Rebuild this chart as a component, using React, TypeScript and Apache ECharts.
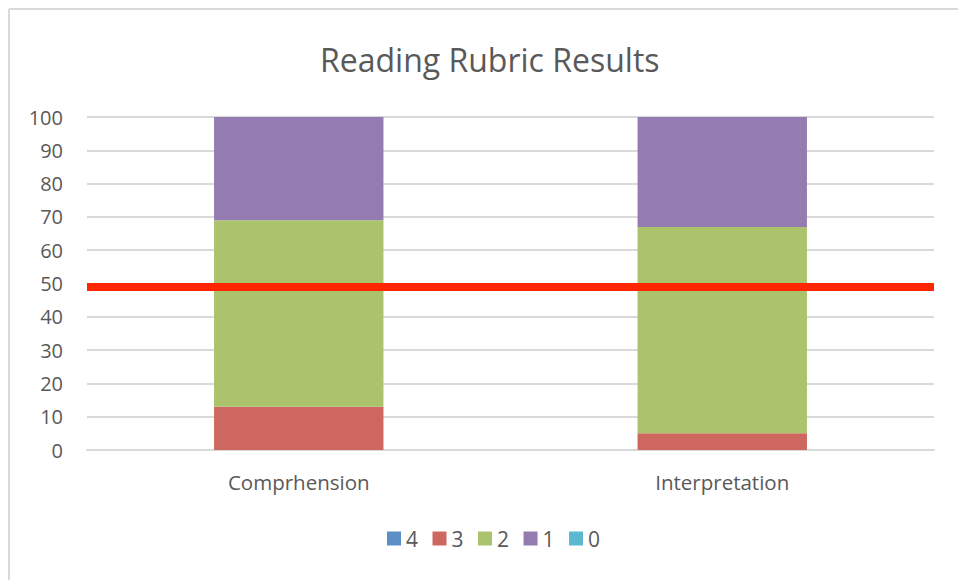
import React, { useEffect, useRef } from "react";
import * as echarts from "echarts";

const categories = ["Comprhension", "Interpretation"];
const seriesNames = ["4", "3", "2", "1", "0"];
const score4 = [0, 0];
const score3 = [13, 5];
const score2 = [56, 62];
const score1 = [31, 33];
const score0 = [0, 0];
const thresholdValue = 49;
const colors = ["#5b8fc8", "#cd675f", "#abc36c", "#947cb0", "#5bb8d0"];

export default function App() {
  const ref = useRef<HTMLDivElement>(null);
  useEffect(() => {
    if (!ref.current) return;
    const chart = echarts.init(ref.current, null, { renderer: "svg" });
    const font = "'Open Sans', sans-serif";
    const values = [score4, score3, score2, score1, score0];
    const series: any[] = seriesNames.map((name, i) => ({
      name,
      type: "bar",
      stack: "total",
      barWidth: "40%",
      data: values[i],
      itemStyle: { color: colors[i] },
    }));
    series[1].markLine = {
      symbol: "none",
      silent: true,
      label: { show: false },
      lineStyle: { color: "#ff2600", width: 8, type: "solid" },
      data: [{ yAxis: thresholdValue }],
    };
    chart.setOption({
      animation: false,
      color: colors,
      title: {
        text: "Reading Rubric Results",
        left: 315,
        top: 38,
        textStyle: { fontFamily: font, fontSize: 32, fontWeight: "normal", color: "#595959" },
      },
      legend: {
        bottom: 26,
        left: 382,
        itemWidth: 14,
        itemHeight: 14,
        itemGap: 14.5,
        icon: "rect",
        textStyle: { fontFamily: font, fontSize: 21, color: "#595959" },
        data: seriesNames,
      },
      grid: { left: 87, right: 24, top: 117, bottom: 130 },
      xAxis: {
        type: "category",
        data: categories,
        axisTick: { show: false },
        axisLine: { lineStyle: { color: "#d9d9d9", width: 2 } },
        axisLabel: { fontFamily: font, fontSize: 20.5, color: "#595959", margin: 21 },
      },
      yAxis: {
        type: "value",
        min: 0,
        max: 100,
        interval: 10,
        axisLine: { show: false },
        axisTick: { show: false },
        splitLine: { lineStyle: { color: "#d9d9d9", width: 2 } },
        axisLabel: { fontFamily: font, fontSize: 20, color: "#595959", margin: 24 },
      },
      graphic: [
        { type: "line", shape: { x1: 9, y1: 9, x2: 9, y2: 580 }, style: { stroke: "#d9d9d9", lineWidth: 2 } },
        { type: "line", shape: { x1: 9, y1: 9, x2: 958, y2: 9 }, style: { stroke: "#d9d9d9", lineWidth: 2 } },
      ],
      series,
    });
    return () => chart.dispose();
  }, []);
  return (
    <div
      ref={ref}
      style={{ position: "fixed", left: 0, top: 0, width: 958, height: 580, background: "#fff" }}
    />
  );
}
